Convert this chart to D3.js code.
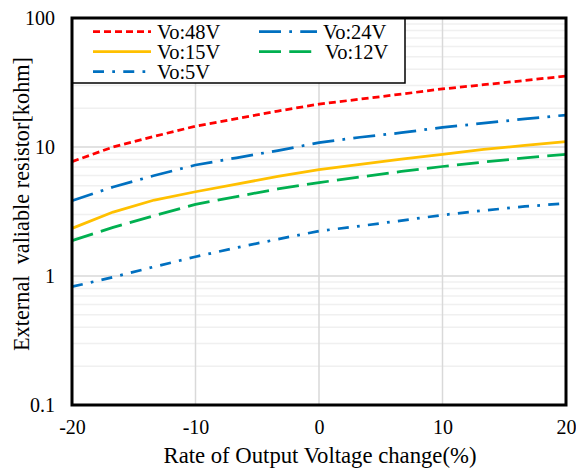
<!DOCTYPE html>
<html>
<head>
<meta charset="utf-8">
<script src="https://cdn.jsdelivr.net/npm/d3@7"></script>
<style>
html,body{margin:0;padding:0;background:#fff;}
svg{display:block;}
svg text{font-family:"Liberation Serif","Times New Roman",Tinos,"DejaVu Serif",serif;}
</style>
</head>
<body>
<svg id="chart" width="576" height="468"></svg>
<script>
// ---- data ----
const xValues = [-20, -16.67, -13.33, -10, -6.67, -3.33, 0, 3.33, 6.67, 10, 13.33, 16.67, 20];
const vo48 = [7.7, 10.0, 12.1, 14.5, 16.6, 19.0, 21.5, 23.5, 25.7, 28.2, 30.4, 32.8, 35.5];
const vo24 = [3.83, 4.90, 6.01, 7.25, 8.25, 9.39, 10.8, 11.9, 12.9, 14.2, 15.3, 16.5, 17.7];
const vo15 = [2.34, 3.13, 3.88, 4.50, 5.16, 5.91, 6.69, 7.32, 8.07, 8.78, 9.57, 10.3, 11.0];
const vo12 = [1.88, 2.38, 2.94, 3.59, 4.13, 4.73, 5.30, 5.85, 6.46, 7.06, 7.65, 8.22, 8.78];
const vo5  = [0.826, 0.98, 1.18, 1.41, 1.66, 1.93, 2.23, 2.44, 2.69, 2.97, 3.22, 3.46, 3.66];
const seriesNames = ["Vo:48V", "Vo:24V", "Vo:15V", "Vo:12V", "Vo:5V"];
const xTicks = [-20, -10, 0, 10, 20];
const xTickLabels = ["-20", "-10", "0", "10", "20"];
const yTicks = [0.1, 1, 10, 100];
const yTickLabels = ["0.1", "1", "10", "100"];
const xTitle = "Rate of Output Voltage change(%)";
const yTitle = "External  valiable resistor[kohm]";

// ---- styles ----
const FONT = '"Liberation Serif","Times New Roman",Tinos,"DejaVu Serif",serif';
const styles = [
  {color:"#FF0000", dash:"7,4"},
  {color:"#0070C0", dash:"22,8.25,2.75,8.25"},
  {color:"#FFC000", dash:null},
  {color:"#00B050", dash:"22,8.25"},
  {color:"#0070C0", dash:"11,8.25,2.75,8.25"}
];
const allSeries = [vo48, vo24, vo15, vo12, vo5];

const L = 72, R = 566, T = 18, B = 405;
const svg = d3.select("#chart");
const x = d3.scaleLinear().domain([-20, 20]).range([L, R]);
const y = d3.scaleLog().domain([0.1, 100]).range([B, T]);

// minor gridlines
const minor = [];
[0.1, 1, 10].forEach(d => { for (let k = 2; k <= 9; k++) minor.push(d * k); });
svg.append("g").selectAll("line").data(minor).join("line")
  .attr("x1", L).attr("x2", R)
  .attr("y1", d => y(d)).attr("y2", d => y(d))
  .attr("stroke", "#F0F0F0").attr("stroke-width", 1.5);
// major gridlines
svg.append("g").selectAll("line").data(yTicks).join("line")
  .attr("x1", L).attr("x2", R)
  .attr("y1", d => y(d)).attr("y2", d => y(d))
  .attr("stroke", "#D9D9D9").attr("stroke-width", 1.5);
svg.append("g").selectAll("line").data(xTicks).join("line")
  .attr("x1", d => x(d)).attr("x2", d => x(d))
  .attr("y1", T).attr("y2", B)
  .attr("stroke", "#D9D9D9").attr("stroke-width", 1.5);

// lines
const line = d3.line().x(d => x(d[0])).y(d => y(d[1]));
allSeries.forEach((vals, i) => {
  const pts = xValues.map((xv, j) => [xv, vals[j]]);
  svg.append("path").datum(pts)
    .attr("d", line)
    .attr("fill", "none")
    .attr("stroke", styles[i].color)
    .attr("stroke-width", 2.75)
    .attr("stroke-dasharray", styles[i].dash)
    .attr("stroke-linecap", "butt")
    .attr("stroke-linejoin", "round");
});

// legend
const lg = svg.append("g");
lg.append("rect").attr("x", 72).attr("y", 18).attr("width", 333).attr("height", 65)
  .attr("fill", "#fff").attr("stroke", "#000").attr("stroke-width", 1.5);
const legPos = [
  {lx:93, ly:31.5, tx:157},
  {lx:259, ly:31.5, tx:323},
  {lx:93, ly:51.5, tx:157},
  {lx:259, ly:51.5, tx:325},
  {lx:93, ly:71.5, tx:157}
];
seriesNames.forEach((name, i) => {
  const p = legPos[i];
  lg.append("line").attr("x1", p.lx).attr("x2", p.lx + 58)
    .attr("y1", p.ly).attr("y2", p.ly)
    .attr("stroke", styles[i].color).attr("stroke-width", 2.75)
    .attr("stroke-dasharray", styles[i].dash);
  lg.append("text").attr("x", p.tx).attr("y", p.ly + 7)
    .attr("font-family", FONT)
    .attr("font-size", 20.5).attr("fill", "#000").text(name);
});

// frame
svg.append("rect").attr("x", L).attr("y", T).attr("width", R - L).attr("height", B - T)
  .attr("fill", "none").attr("stroke", "#000").attr("stroke-width", 3);

// axes (labels only)
const xAxis = d3.axisBottom(x).tickValues(xTicks).tickSize(0).tickPadding(0)
  .tickFormat((d, i) => xTickLabels[i]);
const gx = svg.append("g").attr("transform", `translate(0,${B})`).call(xAxis)
  .attr("font-family", FONT);
gx.select(".domain").remove();
gx.selectAll("text").attr("font-size", 20).attr("font-family", FONT)
  .attr("fill", "#000").attr("dy", null).attr("y", 29);

const yAxis = d3.axisLeft(y).tickValues(yTicks).tickSize(0).tickPadding(0)
  .tickFormat((d, i) => yTickLabels[i]);
const gy = svg.append("g").attr("transform", `translate(${L},0)`).call(yAxis)
  .attr("font-family", FONT);
gy.select(".domain").remove();
gy.selectAll("text").attr("font-size", 20).attr("font-family", FONT)
  .attr("fill", "#000").attr("x", -17).attr("dy", "0.33em");

// titles
svg.append("text").attr("x", 320).attr("y", 463).attr("text-anchor", "middle")
  .attr("font-family", FONT)
  .attr("font-size", 22.7).attr("fill", "#000").text(xTitle);
svg.append("text").attr("transform", "translate(29,204) rotate(-90)")
  .attr("font-family", FONT)
  .attr("text-anchor", "middle").attr("font-size", 22.3).attr("fill", "#000")
  .style("white-space", "pre").text(yTitle);
</script>
</body>
</html>
